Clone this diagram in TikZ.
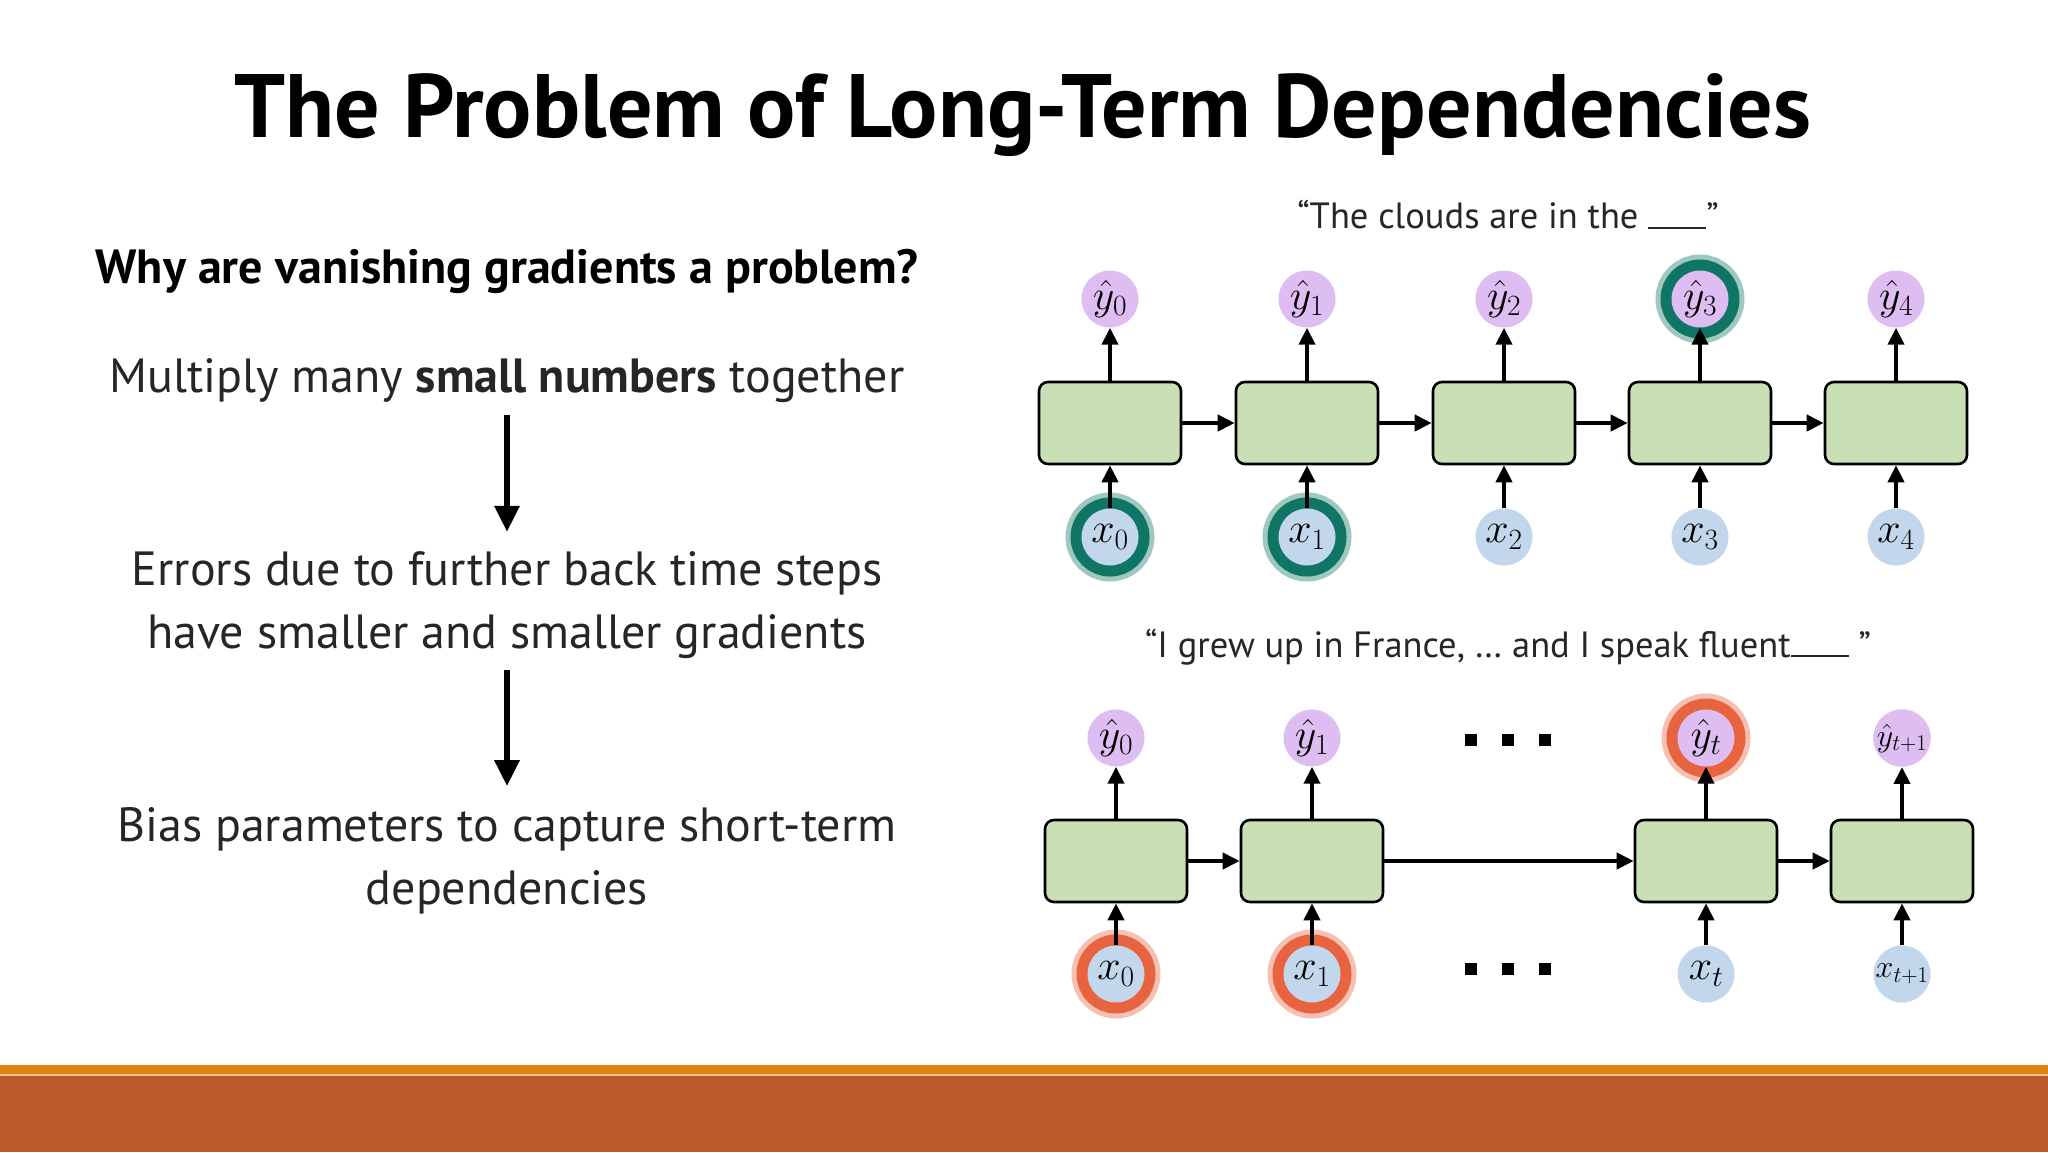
\RequirePackage{fix-cm}
\documentclass[tikz,border=0pt]{standalone}
\usepackage{fontspec}
\setmainfont{PT Sans}
\usetikzlibrary{arrows.meta}
\definecolor{cellgreen}{HTML}{C9DFB5}
\definecolor{outlilac}{HTML}{DDBDF2}
\definecolor{inblue}{HTML}{C2D7EC}
\definecolor{tealglow}{HTML}{0F7565}
\definecolor{redglow}{HTML}{E8633F}
\definecolor{barorange}{HTML}{E1810F}
\definecolor{barrust}{HTML}{BC592A}
\definecolor{textgray}{HTML}{262626}

\begin{document}
\begin{tikzpicture}[
    x=1pt, y=-1pt,
    cell/.style={rectangle, draw, line width=2.6pt, fill=cellgreen, rounded corners=9pt, minimum width=142pt, minimum height=82pt},
    ynode/.style={circle, fill=outlilac, minimum size=57pt, inner sep=0pt, font=\fontsize{42}{42}\selectfont},
    xnode/.style={circle, fill=inblue, minimum size=57pt, inner sep=0pt, font=\fontsize{42}{42}\selectfont},
    tglow/.style={preaction={draw=tealglow!40, line width=32pt}, preaction={draw=tealglow, line width=22pt}},
    rglow/.style={preaction={draw=redglow!40, line width=32pt}, preaction={draw=redglow, line width=22pt}},
    arr/.style={-{Triangle[length=17pt,width=16pt]}, line width=4pt},
    bigarr/.style={-{Triangle[length=26pt,width=24pt]}, line width=6pt},
    body/.style={font=\fontsize{48}{63}\selectfont, text=textgray, align=center},
    caption/.style={font=\fontsize{36.5}{40}\selectfont, text=textgray}
]
\useasboundingbox (0,0) rectangle (2048,1152);
\fill[white] (0,0) rectangle (2048,1152);

% title and left column
\node[font=\fontsize{90}{100}\selectfont\bfseries] (title) at (1023,115) {The Problem of Long-Term Dependencies};
\node[font=\fontsize{48}{56}\selectfont\bfseries] (why) at (507,271) {Why are vanishing gradients a problem?};
\node[body] (mult) at (507,381) {Multiply many \textbf{small numbers} together};
\node[body] (err) at (507,605) {Errors due to further back time steps\\have smaller and smaller gradients};
\node[body] (bias) at (507,861) {Bias parameters to capture short-term\\dependencies};

\draw[bigarr, shorten <=8pt, shorten >=16pt] (mult.south) -- (err.north);
\draw[bigarr, shorten <=8pt, shorten >=18pt] (err.south) -- (bias.north);

% short-range example
\node[caption] (capA) at (1508,215) {``The clouds are in the \rule{58pt}{2pt}''};

\node[cell] (a0) at (1110,423) {};
\node[cell] (a1) at (1307,423) {};
\node[cell] (a2) at (1504,423) {};
\node[cell] (a3) at (1700,423) {};
\node[cell] (a4) at (1896,423) {};

\node[ynode] (ya0) at (1110,299) {$\hat{y}_0$};
\node[ynode] (ya1) at (1307,299) {$\hat{y}_1$};
\node[ynode] (ya2) at (1504,299) {$\hat{y}_2$};
\node[ynode, tglow] (ya3) at (1700,299) {$\hat{y}_3$};
\node[ynode] (ya4) at (1896,299) {$\hat{y}_4$};

\node[xnode, tglow] (xa0) at (1110,537) {$x_0$};
\node[xnode, tglow] (xa1) at (1307,537) {$x_1$};
\node[xnode] (xa2) at (1504,537) {$x_2$};
\node[xnode] (xa3) at (1700,537) {$x_3$};
\node[xnode] (xa4) at (1896,537) {$x_4$};

\draw[arr] (a0) -- (a1);
\draw[arr] (a1) -- (a2);
\draw[arr] (a2) -- (a3);
\draw[arr] (a3) -- (a4);

\draw[arr] (a0.north) -- (ya0.south);
\draw[arr] (a1.north) -- (ya1.south);
\draw[arr] (a2.north) -- (ya2.south);
\draw[arr] (a3.north) -- (ya3.south);
\draw[arr] (a4.north) -- (ya4.south);

\draw[arr] (xa0.north) -- (a0.south);
\draw[arr] (xa1.north) -- (a1.south);
\draw[arr] (xa2.north) -- (a2.south);
\draw[arr] (xa3.north) -- (a3.south);
\draw[arr] (xa4.north) -- (a4.south);

% long-range example
\node[caption] (capB) at (1508,647) {``I grew up in France, \dots{} and I speak fluent\rule{58pt}{2pt} ''};

\node[cell] (b0) at (1116,861) {};
\node[cell] (b1) at (1312,861) {};
\node[cell] (bt) at (1706,861) {};
\node[cell] (bn) at (1902,861) {};

\node[ynode] (yb0) at (1116,738) {$\hat{y}_0$};
\node[ynode] (yb1) at (1312,738) {$\hat{y}_1$};
\node[ynode, rglow] (ybt) at (1706,738) {$\hat{y}_t$};
\node[ynode] (ybn) at (1902,738) {\fontsize{32}{32}\selectfont$\hat{y}_{t+1}$};

\node[xnode, rglow] (xb0) at (1116,974) {$x_0$};
\node[xnode, rglow] (xb1) at (1312,974) {$x_1$};
\node[xnode] (xbt) at (1706,974) {$x_t$};
\node[xnode] (xbn) at (1902,974) {\fontsize{32}{32}\selectfont$x_{t+1}$};

\node (dotsy) at (1508,740) {\rule{12pt}{12pt}\hspace{25pt}\rule{12pt}{12pt}\hspace{25pt}\rule{12pt}{12pt}};
\node (dotsx) at (1508,969) {\rule{12pt}{12pt}\hspace{25pt}\rule{12pt}{12pt}\hspace{25pt}\rule{12pt}{12pt}};

\draw[arr] (b0) -- (b1);
\draw[arr] (b1) -- (bt);
\draw[arr] (bt) -- (bn);

\draw[arr] (b0.north) -- (yb0.south);
\draw[arr] (b1.north) -- (yb1.south);
\draw[arr] (bt.north) -- (ybt.south);
\draw[arr] (bn.north) -- (ybn.south);

\draw[arr] (xb0.north) -- (b0.south);
\draw[arr] (xb1.north) -- (b1.south);
\draw[arr] (xbt.north) -- (bt.south);
\draw[arr] (xbn.north) -- (bn.south);

% footer band
\fill[barorange] (0,1065) rectangle (2048,1075);
\fill[barrust] (0,1075) rectangle (2048,1152);
\draw[barorange!45, line width=1.5pt] (0,1075) -- (2048,1075);
\end{tikzpicture}
\end{document}
